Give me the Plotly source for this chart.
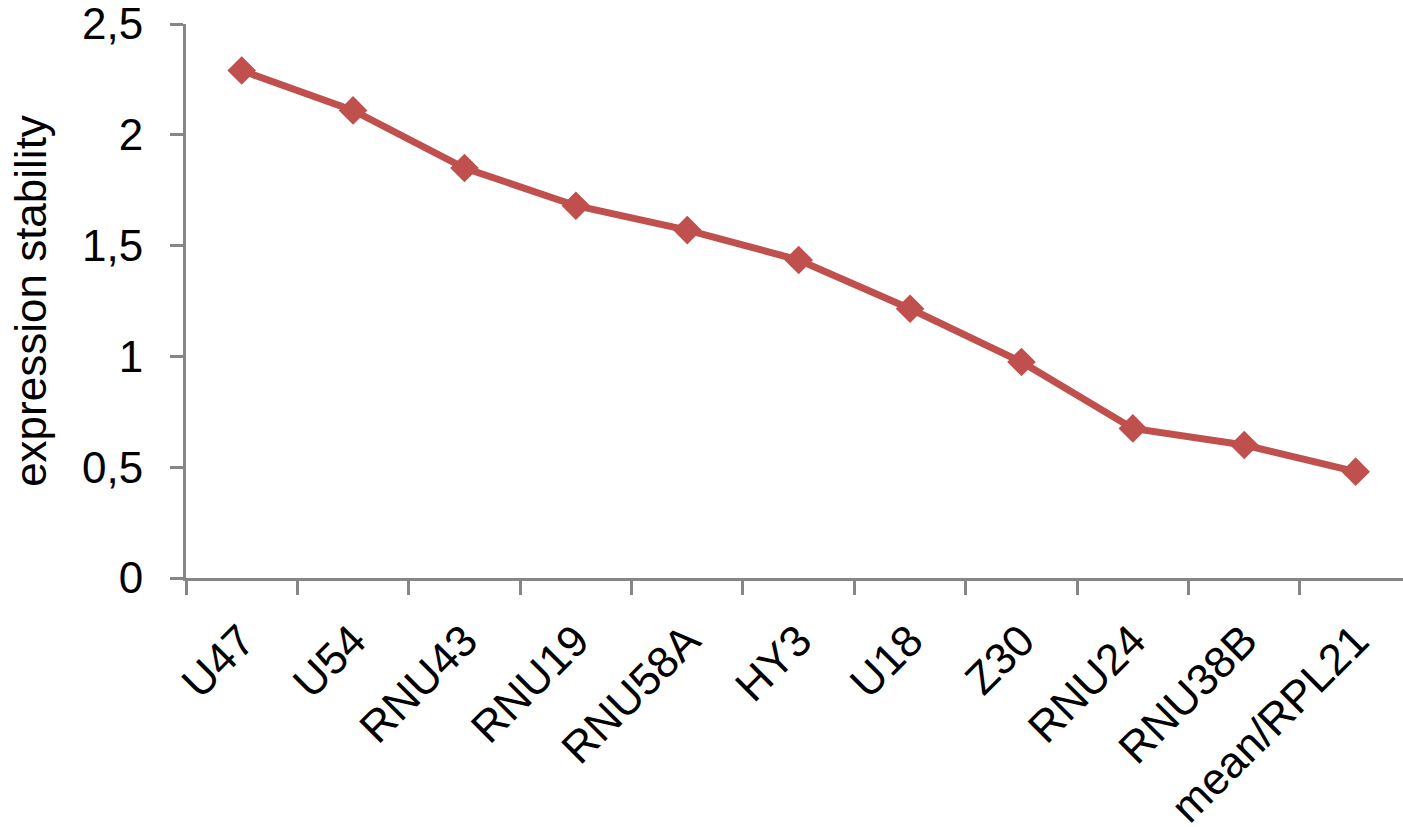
import plotly.graph_objects as go

# Candidate reference genes ranked by geNorm expression stability (M value)
genes = ["U47", "U54", "RNU43", "RNU19", "RNU58A", "HY3", "U18", "Z30",
         "RNU24", "RNU38B", "mean/RPL21"]
stability = [2.29, 2.11, 1.85, 1.68, 1.57, 1.435, 1.215, 0.975, 0.675, 0.60, 0.48]

RED = "#C0504D"
AXIS_GREY = "#868686"
FONT = "Liberation Sans, Arial, sans-serif"

fig = go.Figure(
    go.Scatter(
        x=genes,
        y=stability,
        mode="lines+markers",
        line=dict(color=RED, width=7),
        marker=dict(symbol="diamond", size=22, color=RED),
        showlegend=False,
    )
)

fig.update_layout(
    width=1403,
    height=827,
    margin=dict(l=186, r=0, t=24, b=249),
    paper_bgcolor="white",
    plot_bgcolor="white",
    separators=",.",
    font=dict(family=FONT, size=44, color="black"),
)

fig.update_xaxes(
    type="category",
    range=[-0.5, 10.425],
    automargin=False,
    showgrid=False,
    showline=True,
    linecolor=AXIS_GREY,
    linewidth=3,
    ticks="outside",
    tickson="boundaries",
    ticklen=14,
    tickwidth=3,
    tickcolor=AXIS_GREY,
    tickangle=-45,
    tickfont=dict(family=FONT, size=44, color="black"),
    ticklabelstandoff=16,
    ticklabeloverflow="allow",
)

fig.update_yaxes(
    range=[0, 2.5],
    dtick=0.5,
    automargin=False,
    showgrid=False,
    zeroline=False,
    showline=True,
    linecolor=AXIS_GREY,
    linewidth=3,
    ticks="outside",
    ticklen=13,
    tickwidth=3,
    tickcolor=AXIS_GREY,
    tickfont=dict(family=FONT, size=44, color="black"),
    ticklabelstandoff=18,
    ticklabeloverflow="allow",
    title=dict(text="expression stability", font=dict(family=FONT, size=44, color="black"),
               standoff=22),
)

fig.write_html("out.html")
